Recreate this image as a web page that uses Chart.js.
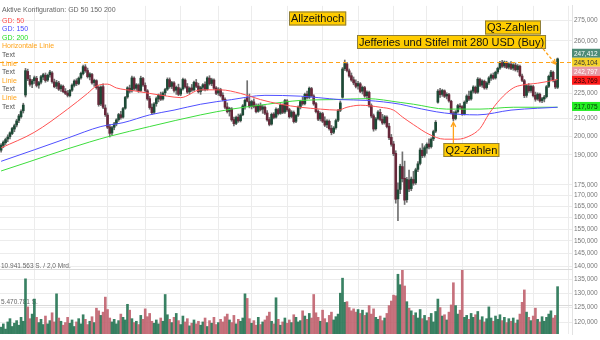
<!DOCTYPE html>
<html>
<head>
<meta charset="utf-8">
<script src="https://cdn.jsdelivr.net/npm/chart.js@4.4.1/dist/chart.umd.min.js"></script>
<style>
  html, body { margin: 0; padding: 0; background: #fff; }
  #wrap { width: 600px; height: 340px; }
</style>
</head>
<body>
<div id="wrap"><canvas id="chart" width="600" height="340"></canvas></div>
<script>
// Tageskerzen (1 Jahr)
const opens = [
  192.5,195.0,196.5,198.5,199.8,201.5,204.0,206.3,208.9,211.0,
  214.5,224.0,239.0,234.0,230.8,233.0,234.5,230.2,232.0,235.3,
  236.5,233.4,236.8,238.0,232.2,229.5,231.5,227.9,229.4,226.3,
  225.2,223.6,227.0,230.0,232.9,231.2,234.8,237.5,242.0,239.6,
  235.4,237.0,231.8,233.0,228.8,218.5,229.2,216.2,212.0,205.2,
  201.8,205.0,207.0,209.4,212.2,210.8,216.0,222.8,228.2,226.6,
  234.6,228.2,230.2,226.8,234.4,230.0,226.6,221.8,216.6,213.6,
  218.8,221.6,224.0,221.6,225.4,227.6,233.6,229.4,231.6,227.0,
  228.6,224.6,227.8,233.4,229.2,226.0,228.4,227.2,231.8,229.6,
  226.2,228.8,230.6,227.6,234.6,231.2,233.4,228.4,225.2,227.4,
  223.8,221.4,216.8,214.2,215.6,209.4,207.2,210.8,208.8,212.2,
  217.2,222.6,220.0,217.2,219.8,217.2,214.2,217.6,215.4,216.6,
  213.2,209.4,206.8,212.6,210.8,215.2,213.0,217.8,213.8,220.4,
  215.2,211.2,213.6,208.4,212.0,216.8,220.2,218.8,224.6,222.6,
  228.0,223.4,218.8,214.2,209.8,212.8,208.6,206.4,208.4,204.4,
  202.2,204.8,209.0,214.8,222.6,240.8,244.0,239.4,236.2,233.6,
  231.4,229.6,231.0,226.4,228.6,223.6,225.6,217.6,211.6,204.2,
  210.0,213.6,209.6,207.6,210.8,205.6,199.4,195.8,190.8,168.4,
  172.8,184.0,178.2,168.0,177.4,173.2,177.6,176.0,182.6,185.6,
  192.4,189.8,193.6,195.8,194.4,198.6,202.8,219.6,226.6,224.4,
  226.6,223.4,224.2,220.2,213.2,210.0,214.0,217.4,217.0,212.8,
  219.8,223.2,221.6,226.4,228.8,225.8,233.8,230.2,232.6,228.6,
  231.8,234.6,236.4,234.8,238.6,241.2,244.8,242.6,245.0,241.8,
  243.8,241.2,243.2,240.2,242.4,236.0,233.0,223.8,229.6,226.8,
  229.2,223.8,221.6,224.4,220.6,221.6,223.0,229.4,235.6,238.4,
  232.8,228.8
];
const highs = [
  196.0,197.5,199.0,200.8,202.5,205.0,206.8,209.5,212.4,215.0,
  219.0,241.0,240.5,236.5,233.8,236.0,235.8,232.6,236.4,237.8,
  238.0,237.3,239.8,238.9,234.0,233.2,232.6,230.5,230.2,228.0,
  226.8,227.5,231.0,233.6,234.2,235.4,238.6,243.2,243.5,241.2,
  238.2,237.8,234.0,233.6,229.6,229.8,231.0,218.0,213.2,206.6,
  205.6,207.8,209.9,213.0,214.2,216.6,223.2,229.2,230.2,236.0,
  235.4,231.2,231.0,235.9,235.2,231.6,227.4,223.2,218.6,219.4,
  222.8,224.6,225.8,226.0,228.2,234.8,234.8,232.6,232.4,229.6,
  230.8,228.4,234.6,234.2,231.2,229.0,230.6,232.8,233.8,231.4,
  229.4,231.2,232.2,235.6,236.2,234.6,234.2,229.2,228.6,228.2,
  225.4,222.2,219.2,216.6,216.4,210.8,211.4,212.6,212.8,218.2,
  221.6,233.0,224.6,220.8,221.6,218.6,218.6,219.2,217.8,217.4,
  214.6,210.6,213.2,213.4,216.2,216.0,218.8,218.6,221.4,221.2,
  216.0,214.6,214.4,212.6,217.4,220.8,222.6,225.2,226.4,229.0,
  228.8,224.2,219.6,215.0,213.8,213.6,211.0,209.4,209.2,206.0,
  205.4,209.6,215.4,220.4,241.6,246.6,245.0,240.6,238.0,235.4,
  233.6,232.6,231.8,229.6,229.4,226.6,226.4,218.6,212.6,210.6,
  214.6,215.4,212.4,211.8,211.6,207.2,201.0,197.2,192.2,176.0,
  185.2,191.6,186.8,178.6,182.2,178.8,181.6,183.2,186.6,193.6,
  196.0,194.8,196.4,198.6,199.2,203.4,208.8,227.4,228.2,227.6,
  227.2,225.4,225.0,220.8,214.0,214.6,218.4,218.8,217.6,220.4,
  224.2,226.4,227.0,229.8,229.6,235.0,234.6,233.6,233.4,232.4,
  235.6,237.4,238.0,239.2,241.8,245.8,246.4,246.0,245.8,244.8,
  245.6,244.2,244.6,243.6,243.2,237.2,233.8,230.6,231.2,230.2,
  230.0,225.8,225.4,225.2,222.6,223.8,230.0,236.6,239.8,239.2,
  233.6,248.0
];
const lows = [
  191.5,193.8,195.5,197.0,198.6,200.9,202.5,205.2,207.6,210.2,
  213.2,222.8,233.0,229.5,228.6,231.2,229.0,228.2,231.0,233.6,
  232.0,232.5,235.2,231.4,228.5,228.0,226.8,226.2,225.4,224.2,
  222.8,222.9,226.2,229.0,229.8,230.4,233.9,236.8,238.4,234.7,
  233.5,230.8,229.4,227.6,217.2,217.6,215.8,211.2,204.2,199.6,
  200.6,203.6,205.8,208.4,209.6,210.2,215.4,222.0,225.2,225.8,
  227.0,226.8,225.6,226.0,229.4,225.8,220.8,215.4,212.2,212.8,
  217.2,219.8,220.6,220.8,223.6,226.8,228.2,228.0,225.8,224.4,
  223.6,223.6,227.0,228.2,225.0,224.6,226.2,226.6,228.6,225.2,
  224.4,226.8,226.6,227.0,230.2,229.8,227.4,224.2,223.8,222.8,
  220.4,215.8,213.2,211.4,208.4,205.8,206.4,207.8,208.0,211.6,
  215.4,219.8,216.2,215.6,216.2,213.2,213.6,214.4,213.0,212.2,
  208.4,205.8,206.2,209.8,210.2,212.0,212.4,212.8,213.0,214.2,
  210.2,210.4,207.4,207.6,211.2,215.6,217.8,218.0,221.6,221.8,
  222.8,217.8,213.2,208.8,208.6,207.6,205.4,204.8,203.4,200.8,
  201.4,204.0,208.2,214.0,222.0,239.6,238.6,235.2,232.6,230.4,
  228.4,227.6,225.4,224.6,222.6,221.4,216.6,210.4,202.8,203.4,
  209.2,208.6,206.6,206.8,204.6,198.2,194.6,189.6,166.4,158.6,
  170.8,176.4,165.8,166.8,171.8,172.2,174.8,175.2,181.4,184.8,
  188.6,188.8,190.8,193.2,193.6,197.6,202.0,219.0,222.6,223.2,
  222.4,221.6,219.6,212.6,208.6,209.2,213.2,215.8,211.8,212.0,
  218.8,220.6,220.8,225.2,224.8,225.0,229.2,228.8,227.6,227.6,
  230.6,233.2,233.8,234.0,237.4,240.4,241.6,241.4,240.8,240.6,
  240.2,239.8,239.2,238.6,235.4,232.4,222.4,222.6,225.6,225.6,
  222.8,220.2,220.8,219.6,219.4,219.8,222.2,228.6,233.2,232.2,
  228.0,228.0
];
const closes = [
  195.2,196.8,198.2,199.6,201.9,204.3,205.9,208.6,211.5,214.1,
  217.9,239.5,234.2,230.6,232.9,234.9,230.0,231.8,235.6,236.9,
  233.1,236.5,238.6,232.4,229.2,231.8,227.6,229.7,226.1,225.0,
  223.8,226.9,230.2,232.8,231.0,234.6,237.8,242.2,239.4,235.6,
  237.4,231.6,233.2,228.6,218.2,229.0,216.6,212.2,205.0,201.6,
  204.8,206.9,209.2,212.3,210.6,215.8,222.5,228.5,226.4,234.8,
  228.0,230.4,226.6,234.6,230.2,226.8,221.6,216.4,213.4,218.6,
  221.8,223.8,221.4,225.2,227.4,233.8,229.2,231.8,226.8,228.8,
  224.4,227.6,233.8,229.0,225.8,228.2,227.0,232.0,229.4,226.0,
  228.6,230.4,227.4,234.8,231.0,233.6,228.2,225.0,227.6,223.6,
  221.2,216.6,214.0,215.8,209.2,207.0,210.6,208.6,212.0,217.4,
  220.8,220.2,217.0,220.0,217.0,214.0,217.8,215.2,216.8,213.0,
  209.2,206.6,212.4,210.6,215.4,212.8,218.0,213.6,220.6,215.0,
  211.0,213.8,208.2,211.8,216.6,220.0,218.6,224.4,222.4,228.2,
  223.6,218.6,214.0,209.6,213.0,208.4,206.2,208.6,204.2,202.0,
  204.6,208.8,214.6,219.2,240.6,244.2,239.6,236.0,233.4,231.6,
  229.4,231.2,226.2,228.8,223.4,225.8,217.4,211.4,204.0,209.8,
  213.8,209.4,207.4,211.0,205.4,199.2,195.6,190.6,168.2,172.6,
  184.2,178.0,167.8,177.6,173.0,177.8,175.8,182.4,185.4,192.6,
  189.6,193.8,195.6,194.2,198.4,202.6,207.8,226.4,224.2,226.8,
  223.2,224.4,220.4,213.4,209.8,213.8,217.6,216.8,212.6,219.6,
  223.4,221.4,226.2,229.0,225.6,234.0,230.0,232.8,228.4,231.6,
  234.8,236.6,234.6,238.4,241.0,245.0,242.4,245.2,241.6,244.0,
  241.0,243.4,240.0,242.6,236.2,233.2,223.6,229.8,226.6,229.4,
  223.6,221.4,224.6,220.4,221.8,222.8,229.2,235.8,238.6,233.6,
  229.0,247.4
];
// Volumen in Mio. Stueck
const volumesMio = [
  2.1,2.6,1.8,2.9,3.4,2.2,2.7,3.1,2.4,3.6,
  3.0,9.5,5.2,3.4,4.1,6.4,3.6,2.8,3.3,2.5,
  3.8,2.6,3.1,4.3,2.9,7.2,3.5,3.0,2.4,2.8,
  3.6,2.7,3.2,2.2,2.9,3.4,2.6,4.0,3.3,2.5,
  3.0,3.7,2.8,5.0,4.6,3.9,4.4,6.7,4.8,3.5,
  2.9,3.3,2.6,3.1,4.1,3.6,3.2,5.6,4.7,3.4,
  2.8,3.0,2.5,3.9,3.3,4.9,3.7,4.2,3.0,2.7,
  3.2,2.6,3.5,3.0,7.1,4.0,3.3,2.8,3.6,4.2,
  3.1,2.5,3.8,2.9,3.4,2.3,2.7,3.2,2.6,3.0,
  2.4,2.9,3.5,2.2,3.1,2.7,3.6,2.5,2.8,3.3,
  2.9,3.7,4.1,3.2,2.8,3.9,2.6,3.3,3.0,3.5,
  7.2,6.5,3.4,2.7,3.1,2.4,3.6,2.5,2.9,3.2,
  3.8,4.4,3.0,2.6,6.6,3.3,2.4,2.9,3.5,2.7,
  3.2,2.8,4.0,3.6,2.9,3.1,4.6,3.8,3.3,4.2,
  3.5,7.1,4.3,3.6,3.0,4.7,3.4,2.8,3.9,4.4,
  3.2,3.7,4.1,7.3,9.6,5.9,6.0,5.1,4.6,4.9,
  4.4,4.8,4.2,4.7,3.9,4.3,5.4,4.1,4.9,3.6,
  3.3,3.8,3.1,3.5,4.2,5.4,6.1,7.0,6.9,10.2,
  8.6,10.8,8.4,6.0,5.0,4.6,3.9,4.3,3.5,4.8,
  3.4,3.9,3.1,3.6,4.2,2.9,4.5,6.4,5.1,3.8,
  4.0,3.2,4.4,5.5,8.9,5.4,4.1,4.7,10.8,3.6,
  3.9,3.3,4.2,3.6,4.0,4.5,3.2,3.7,2.9,3.4,
  5.2,3.5,3.0,3.8,3.3,4.0,3.1,3.6,2.8,3.4,
  3.0,3.5,2.7,3.2,4.1,5.9,7.8,4.4,3.6,3.1,
  3.8,5.0,3.3,2.9,3.7,3.0,3.6,4.1,4.6,3.5,
  3.9,8.3
];
// Gleitende Durchschnitte: [Kerzenindex, Kurs]
const gd50 = [
  [0,193.7],[15,202.2],[30,215.5],[39,225.0],[43,229.6],[48,230.8],[52,228.4],
  [60,226.6],[67,225.0],[75,223.3],[81,222.4],[90,227.2],[99,227.2],[108,225.0],
  [117,221.2],[126,218.4],[135,216.6],[144,215.5],[152,214.9],[156,216.6],
  [162,217.8],[171,216.6],[177,214.9],[181,210.9],[186,206.5],[193,201.1],
  [200,198.4],[206,198.4],[211,200.0],[216,204.3],[220,212.6],[225,221.2],
  [231,228.4],[235,230.2],[242,231.4],[247,232.6],[251,233.8]
];
const gd150 = [
  [0,186.7],[15,192.7],[30,199.0],[45,205.4],[55,207.6],[67,212.1],[78,214.9],
  [90,218.4],[104,221.2],[119,223.8],[135,223.3],[143,222.4],[153,221.2],
  [165,220.7],[180,218.4],[186,216.6],[200,213.2],[215,212.1],[230,214.9],
  [242,216.0],[251,216.6]
];
const gd200 = [
  [0,181.8],[13,186.6],[30,193.2],[40,196.9],[49,200.0],[67,205.4],[90,212.1],
  [104,215.5],[120,218.4],[135,220.7],[150,221.2],[165,221.8],[180,219.5],
  [186,218.4],[201,215.5],[216,215.5],[231,216.6],[251,216.6]
];
const priceTicks = [120,125,130,135,140,145,150,155,160,165,170,175,190,200,210,225,260,275];
const horizontalLine = 245.104;
const priceTags = [
  { value: 247.412, bg: '#4d8b76', fg: '#ffffff' },
  { value: 245.104, bg: '#f4d22a', fg: '#333333', fixed: true },
  { value: 242.797, bg: '#e79aa6', fg: '#ffffff' },
  { value: 233.769, bg: '#ff1c1c', fg: '#2a0000' },
  { value: 217.075, bg: '#25ee25', fg: '#063306' }
];
const volumeRefs = [
  { value: 10941563, text: '10.941.563 S. / 2,0 Mrd.' },
  { value: 5470781, text: '5.470.781 S.' }
];
const legendLines = [
  ['Aktive Konfiguration: GD 50 150 200', '#666666'],
  ['GD: 50', '#ff4a4a'], ['GD: 150', '#4a4aff'], ['GD: 200', '#22dd22'],
  ['Horizontale Linie', '#ffa319'], ['Text', '#555555'],
  ['Linie', '#ffa319'], ['Text', '#555555'],
  ['Linie', '#ffa319'], ['Text', '#555555'],
  ['Linie', '#ffa319'], ['Text', '#555555']
];
// Gitterlinien (Kerzenindex) wie im Original
const gridIdx = [15,31,48,65,81,98,113,129,145,161,177,192,208,224,240,256];

const FONT = '"Liberation Sans", Arial, sans-serif';
const slots = opens.length + 6;
const labels = Array.from({ length: slots }, (_, i) => String(i));
const isUp = closes.map((c, i) => c >= opens[i]);
const toPts = arr => arr.map(([i, v]) => ({ x: String(i), y: v }));

function drawArrow(ctx, x1, y1, x2, y2, dashed) {
  ctx.save();
  ctx.strokeStyle = '#ffa319';
  ctx.lineWidth = 1.3;
  if (dashed) ctx.setLineDash([3, 2]);
  ctx.beginPath(); ctx.moveTo(x1, y1); ctx.lineTo(x2, y2); ctx.stroke();
  ctx.setLineDash([]);
  const a = Math.atan2(y2 - y1, x2 - x1);
  ctx.beginPath();
  ctx.moveTo(x2 - 5 * Math.cos(a - 0.5), y2 - 5 * Math.sin(a - 0.5));
  ctx.lineTo(x2, y2);
  ctx.lineTo(x2 - 5 * Math.cos(a + 0.5), y2 - 5 * Math.sin(a + 0.5));
  ctx.stroke();
  ctx.restore();
}

function drawNote(ctx, text, left, top) {
  ctx.font = '11px ' + FONT;
  const w = ctx.measureText(text).width + 4;
  ctx.fillStyle = '#ffcc00';
  ctx.fillRect(left, top, w, 14);
  ctx.strokeStyle = '#8c7d3c';
  ctx.lineWidth = 1;
  ctx.strokeRect(left + 0.5, top + 0.5, w - 1, 13);
  ctx.fillStyle = '#111';
  ctx.textBaseline = 'middle';
  ctx.fillText(text, left + 2, top + 7.5);
}

const overlay = {
  id: 'overlay',
  beforeDatasetsDraw(chart) {
    const { ctx, chartArea: area, scales } = chart;
    ctx.save();
    volumeRefs.forEach(r => {
      const y = Math.round(scales.yv.getPixelForValue(r.value)) + 0.5;
      ctx.strokeStyle = '#dadada';
      ctx.lineWidth = 1;
      ctx.beginPath(); ctx.moveTo(area.left, y); ctx.lineTo(area.right, y); ctx.stroke();
      ctx.fillStyle = '#666';
      ctx.font = '6.5px ' + FONT;
      ctx.textBaseline = 'bottom';
      ctx.fillText(r.text, area.left + 1, y - 0.5);
    });
    ctx.restore();
  },
  afterDatasetsDraw(chart) {
    const { ctx, chartArea: area, scales } = chart;
    const x = scales.x, y = scales.y;
    ctx.save();

    // horizontale Linie
    const hy = Math.round(y.getPixelForValue(horizontalLine)) + 0.5;
    ctx.strokeStyle = '#ffa319';
    ctx.lineWidth = 1.2;
    ctx.setLineDash([4, 3]);
    ctx.beginPath(); ctx.moveTo(area.left, hy); ctx.lineTo(area.right, hy); ctx.stroke();
    ctx.setLineDash([]);

    // Legende oben links
    ctx.font = '7px ' + FONT;
    ctx.textBaseline = 'middle';
    legendLines.forEach(([t, c], i) => {
      ctx.fillStyle = c;
      ctx.fillText(t, 2, i === 0 ? 10 : 12 + i * 8.6);
    });

    // Notizen
    drawNote(ctx, 'Allzeithoch', 289, 11.5);
    drawNote(ctx, 'Q3-Zahlen', 485, 20.5);
    drawNote(ctx, 'Jefferies und Stifel mit 280 USD (Buy)', 357, 35);
    const q2x = x.getPixelForValue(204);
    drawNote(ctx, 'Q2-Zahlen', q2x - 10, 143);
    drawArrow(ctx, q2x, 143, q2x, y.getPixelForValue(lows[204]) + 1.5, false);
    drawArrow(ctx, 540, 45, x.getPixelForValue(250), y.getPixelForValue(244), true);

    // Kursmarken rechts
    const tags = priceTags.map(t => ({ ...t, py: y.getPixelForValue(t.value) }));
    const anchor = tags.find(t => t.fixed);
    const above = tags.filter(t => !t.fixed && t.py <= anchor.py).sort((a, b) => b.py - a.py);
    const below = tags.filter(t => !t.fixed && t.py > anchor.py).sort((a, b) => a.py - b.py);
    let last = anchor.py;
    above.forEach(t => { t.py = Math.min(t.py, last - 9); last = t.py; });
    last = anchor.py;
    below.forEach(t => { t.py = Math.max(t.py, last + 9); last = t.py; });
    ctx.font = '6.5px ' + FONT;
    tags.forEach(t => {
      ctx.fillStyle = t.bg;
      ctx.fillRect(area.right, t.py - 4.5, 600 - area.right, 9);
      ctx.fillStyle = t.fg;
      ctx.fillText(t.value.toFixed(3).replace('.', ','), area.right + 2, t.py + 0.5);
    });
    ctx.restore();
  }
};

new Chart(document.getElementById('chart'), {
  data: {
    labels: labels,
    datasets: [
      {
        type: 'line', label: 'GD 50', data: toPts(gd50), yAxisID: 'y',
        borderColor: '#ff5252', borderWidth: 1, pointRadius: 0,
        cubicInterpolationMode: 'monotone', order: 1
      },
      {
        type: 'line', label: 'GD 150', data: toPts(gd150), yAxisID: 'y',
        borderColor: '#5050ff', borderWidth: 1, pointRadius: 0,
        cubicInterpolationMode: 'monotone', order: 1
      },
      {
        type: 'line', label: 'GD 200', data: toPts(gd200), yAxisID: 'y',
        borderColor: '#3ddd3d', borderWidth: 1, pointRadius: 0,
        cubicInterpolationMode: 'monotone', order: 1
      },
      {
        type: 'bar', label: 'Koerper', data: opens.map((o, i) => [o, closes[i]]), yAxisID: 'y',
        backgroundColor: isUp.map(u => u ? '#1d4a36' : '#66283a'),
        barThickness: 2, grouped: false, order: 2
      },
      {
        type: 'bar', label: 'Docht', data: lows.map((l, i) => [l, highs[i]]), yAxisID: 'y',
        backgroundColor: '#707070', barThickness: 1, grouped: false, order: 3
      },
      {
        type: 'bar', label: 'Volumen', data: volumesMio.map(v => v * 1e6), yAxisID: 'yv',
        backgroundColor: isUp.map(u => u ? 'rgba(40,118,86,0.92)' : 'rgba(192,98,110,0.9)'),
        barThickness: 2, grouped: false, order: 4
      }
    ]
  },
  options: {
    responsive: false,
    devicePixelRatio: 1,
    animation: false,
    layout: { padding: 0 },
    plugins: { legend: { display: false }, tooltip: { enabled: false } },
    scales: {
      x: {
        type: 'category',
        offset: true,
        ticks: { display: false, autoSkip: false },
        grid: {
          offset: false, drawTicks: false,
          color: c => gridIdx.includes(c.index) ? '#ececec' : 'rgba(0,0,0,0)'
        },
        border: { display: false },
        afterFit: s => { s.height = 0; }
      },
      y: {
        type: 'logarithmic',
        position: 'right',
        min: 116.12,
        max: 286.16,
        afterBuildTicks: s => { s.ticks = priceTicks.map(v => ({ value: v })); },
        ticks: {
          color: '#777', padding: 2,
          font: { size: 6.5, family: FONT },
          callback: v => Number(v).toFixed(3).replace('.', ',')
        },
        grid: { color: '#ececec', drawTicks: false },
        border: { color: '#e2e2e2' },
        afterFit: s => { s.width = 28; }
      },
      yv: {
        type: 'linear',
        display: false,
        min: 1.035e6,
        max: 51.3e6
      }
    }
  },
  plugins: [overlay]
});
</script>
</body>
</html>
